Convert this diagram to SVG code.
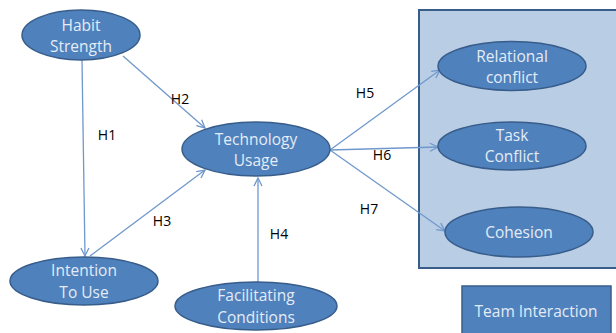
<svg xmlns="http://www.w3.org/2000/svg" width="616" height="333" viewBox="0 0 616 333">
  <style>
    .node { fill: #4f81bd; stroke: #385d8a; stroke-width: 1.5; }
    .box { fill: #b9cde5; stroke: #385d8a; stroke-width: 2; }
    .lbl { font-family: "Open Sans", "Liberation Sans", sans-serif; font-size: 15.5px; fill: #e4ecf6; text-anchor: middle; }
    .hyp { font-family: "Open Sans", "Liberation Sans", sans-serif; font-size: 14px; fill: #000; text-anchor: middle; }
    .edge { stroke: #6f98cc; stroke-width: 1.3; fill: none; marker-end: url(#arrow); }
  </style>
  <defs>
    <marker id="arrow" viewBox="0 0 10 10" refX="9" refY="5" markerWidth="10" markerHeight="10" markerUnits="userSpaceOnUse" orient="auto">
      <path d="M1,1 L9,5 L1,9" fill="none" stroke="#6f98cc" stroke-width="1.3"/>
    </marker>
  </defs>

  <rect width="616" height="333" fill="#ffffff"/>

  <!-- team interaction container -->
  <g id="team-box">
    <rect class="box" x="419" y="10" width="198" height="258"/>
  </g>

  <g id="connectors">
    <line class="edge" x1="82" y1="60" x2="85" y2="256"/>
    <line class="edge" x1="123" y1="56" x2="205" y2="128"/>
    <line class="edge" x1="90" y1="256" x2="205" y2="170"/>
    <line class="edge" x1="258" y1="282" x2="258" y2="178"/>
    <line class="edge" x1="330" y1="150" x2="440" y2="70"/>
    <line class="edge" x1="330" y1="150" x2="438" y2="147"/>
    <line class="edge" x1="330" y1="150" x2="445" y2="231"/>
  </g>

  <g id="habit-strength">
    <ellipse class="node" cx="81" cy="35" rx="59" ry="25"/>
    <text class="lbl" x="81" y="31">Habit</text>
    <text class="lbl" x="81" y="52">Strength</text>
  </g>
  <g id="technology-usage">
    <ellipse class="node" cx="256" cy="149" rx="74" ry="27"/>
    <text class="lbl" x="256" y="145">Technology</text>
    <text class="lbl" x="256" y="166">Usage</text>
  </g>
  <g id="intention-to-use">
    <ellipse class="node" cx="84" cy="281" rx="74" ry="24"/>
    <text class="lbl" x="84" y="276">Intention</text>
    <text class="lbl" x="84" y="298">To Use</text>
  </g>
  <g id="facilitating-conditions">
    <ellipse class="node" cx="256" cy="306" rx="81" ry="24"/>
    <text class="lbl" x="256" y="301">Facilitating</text>
    <text class="lbl" x="256" y="323">Conditions</text>
  </g>
  <g id="relational-conflict">
    <ellipse class="node" cx="512" cy="66" rx="74" ry="24.5"/>
    <text class="lbl" x="512" y="62">Relational</text>
    <text class="lbl" x="512" y="83">conflict</text>
  </g>
  <g id="task-conflict">
    <ellipse class="node" cx="512" cy="146" rx="74" ry="24"/>
    <text class="lbl" x="512" y="141">Task</text>
    <text class="lbl" x="512" y="162">Conflict</text>
  </g>
  <g id="cohesion">
    <ellipse class="node" cx="519" cy="232" rx="74" ry="25"/>
    <text class="lbl" x="519" y="238">Cohesion</text>
  </g>
  <g id="team-interaction">
    <rect class="node" x="462" y="286" width="149" height="50"/>
    <text class="lbl" x="536" y="317">Team Interaction</text>
  </g>

  <g id="hypotheses">
    <text class="hyp" x="107" y="140">H1</text>
    <text class="hyp" x="180" y="104">H2</text>
    <text class="hyp" x="162" y="226">H3</text>
    <text class="hyp" x="279" y="239">H4</text>
    <text class="hyp" x="365" y="98">H5</text>
    <text class="hyp" x="382" y="160">H6</text>
    <text class="hyp" x="369" y="214">H7</text>
  </g>
</svg>
